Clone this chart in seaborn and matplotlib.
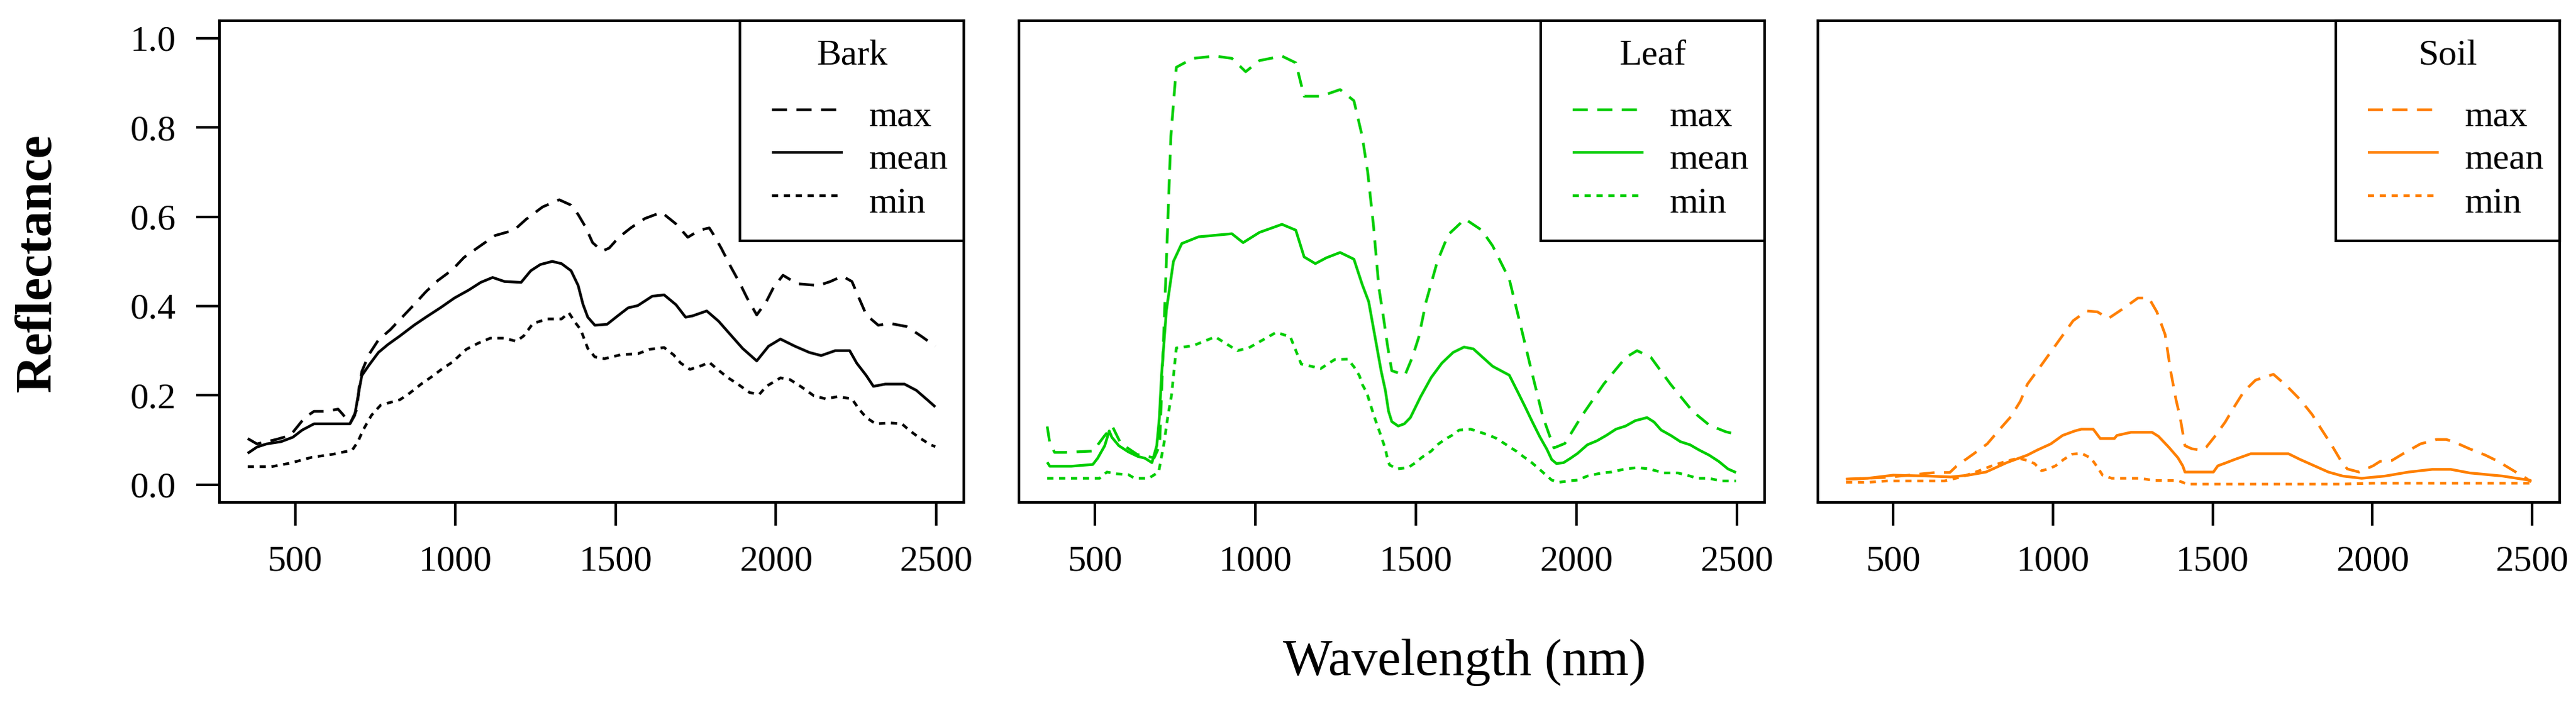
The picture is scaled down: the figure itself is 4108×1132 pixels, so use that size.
import matplotlib
matplotlib.use("Agg")
import matplotlib.pyplot as plt
from matplotlib.patches import Rectangle
from matplotlib.lines import Line2D
import pandas as pd
import seaborn as sns

# ---------------- data ----------------
bark_max_wl = [352, 381, 441, 485, 530, 559, 597, 634, 649, 671, 693, 700, 708, 730, 760, 797, 834, 871, 908, 945,
               990, 1027, 1072, 1124, 1183, 1220, 1272, 1324, 1361, 1383, 1406, 1428, 1458, 1480, 1510, 1547, 1591,
               1643, 1688, 1725, 1762, 1792, 1807, 1829, 1859, 1888, 1910, 1940, 1970, 1992, 2022, 2066, 2133, 2170,
               2207, 2237, 2259, 2282, 2319, 2356, 2408, 2452, 2497]
bark_max = [0.103, 0.091, 0.101, 0.110, 0.150, 0.164, 0.164, 0.169, 0.157, 0.136, 0.169, 0.220, 0.253, 0.291, 0.324,
            0.347, 0.375, 0.403, 0.432, 0.457, 0.481, 0.509, 0.532, 0.558, 0.570, 0.594, 0.622, 0.638, 0.626, 0.605,
            0.577, 0.542, 0.523, 0.530, 0.554, 0.575, 0.596, 0.610, 0.584, 0.554, 0.570, 0.575, 0.558, 0.530, 0.488,
            0.450, 0.418, 0.380, 0.410, 0.441, 0.469, 0.450, 0.446, 0.455, 0.467, 0.455, 0.418, 0.380, 0.357, 0.361,
            0.354, 0.333, 0.310]

bark_mean_wl = [352, 381, 411, 456, 493, 522, 559, 671, 686, 696, 708, 730, 760, 790, 827, 871, 908, 953, 997, 1042,
                1079, 1116, 1153, 1205, 1235, 1265, 1302, 1331, 1361, 1383, 1398, 1413, 1435, 1473, 1510, 1539, 1569,
                1614, 1651, 1688, 1718, 1740, 1784, 1821, 1859, 1896, 1940, 1977, 2014, 2059, 2104, 2141, 2185, 2230,
                2252, 2282, 2304, 2341, 2401, 2438, 2475, 2497]
bark_mean = [0.070, 0.084, 0.091, 0.096, 0.106, 0.122, 0.136, 0.136, 0.155, 0.197, 0.244, 0.267, 0.296, 0.314,
             0.333, 0.357, 0.375, 0.396, 0.418, 0.436, 0.453, 0.464, 0.455, 0.453, 0.479, 0.493, 0.500, 0.495, 0.479,
             0.446, 0.404, 0.375, 0.357, 0.359, 0.380, 0.396, 0.401, 0.422, 0.425, 0.403, 0.375, 0.378, 0.389, 0.366,
             0.335, 0.305, 0.277, 0.310, 0.326, 0.310, 0.296, 0.289, 0.300, 0.300, 0.272, 0.244, 0.220, 0.225, 0.225,
             0.211, 0.188, 0.174]

bark_min_wl = [352, 426, 485, 552, 619, 678, 696, 712, 738, 767, 827, 856, 893, 931, 960, 990, 1034, 1072, 1109,
               1153, 1190, 1213, 1242, 1287, 1331, 1354, 1373, 1391, 1413, 1435, 1465, 1517, 1569, 1606, 1651, 1680,
               1703, 1732, 1770, 1792, 1814, 1851, 1881, 1918, 1948, 1970, 2014, 2044, 2081, 2118, 2155, 2193, 2237,
               2259, 2282, 2311, 2356, 2393, 2415, 2445, 2482, 2497]
bark_min = [0.040, 0.040, 0.048, 0.061, 0.068, 0.077, 0.096, 0.122, 0.155, 0.178, 0.190, 0.204, 0.225, 0.244, 0.260,
            0.274, 0.303, 0.317, 0.328, 0.328, 0.321, 0.333, 0.361, 0.371, 0.371, 0.385, 0.364, 0.347, 0.305, 0.286,
            0.282, 0.291, 0.293, 0.303, 0.307, 0.291, 0.272, 0.258, 0.267, 0.274, 0.260, 0.239, 0.225, 0.206, 0.202,
            0.220, 0.239, 0.235, 0.218, 0.199, 0.192, 0.197, 0.192, 0.169, 0.150, 0.136, 0.138, 0.136, 0.122, 0.106,
            0.089, 0.085]

leaf_max_wl = [352, 360, 375, 408, 495, 529, 555, 581, 633, 685, 702, 720, 737, 754, 806, 875, 927, 970, 1013, 1083,
               1126, 1152, 1204, 1264, 1307, 1333, 1350, 1368, 1385, 1398, 1412, 1425, 1466, 1489, 1509, 1532, 1567,
               1601, 1653, 1705, 1739, 1791, 1826, 1860, 1895, 1930, 1964, 2016, 2085, 2154, 2189, 2232, 2293, 2362,
               2414, 2466, 2497]
leaf_max = [0.130, 0.093, 0.072, 0.072, 0.075, 0.108, 0.130, 0.092, 0.067, 0.060, 0.087, 0.440, 0.780, 0.935, 0.955,
            0.960, 0.955, 0.925, 0.950, 0.960, 0.945, 0.870, 0.870, 0.885, 0.860, 0.780, 0.700, 0.580, 0.440, 0.380,
            0.310, 0.255, 0.245, 0.285, 0.330, 0.410, 0.500, 0.560, 0.595, 0.570, 0.535, 0.460, 0.357, 0.255, 0.153,
            0.082, 0.092, 0.153, 0.225, 0.285, 0.300, 0.285, 0.225, 0.164, 0.133, 0.118, 0.113]

leaf_mean_wl = [352, 360, 427, 494, 509, 531, 545, 553, 575, 605, 634, 656, 678, 693, 701, 708, 723, 745, 771, 823,
                927, 962, 1013, 1083, 1126, 1152, 1187, 1221, 1264, 1307, 1333, 1353, 1373, 1392, 1405, 1415, 1425,
                1445, 1464, 1483, 1515, 1548, 1581, 1616, 1650, 1679, 1739, 1791, 1819, 1841, 1863, 1886, 1908, 1923,
                1938, 1960, 1982, 2004, 2034, 2064, 2093, 2123, 2153, 2183, 2220, 2242, 2264, 2294, 2324, 2354, 2383,
                2413, 2443, 2472, 2497]
leaf_mean = [0.050, 0.041, 0.041, 0.045, 0.059, 0.087, 0.120, 0.106, 0.087, 0.073, 0.063, 0.059, 0.049, 0.087,
             0.148, 0.246, 0.390, 0.500, 0.540, 0.555, 0.562, 0.542, 0.565, 0.583, 0.570, 0.510, 0.495, 0.508, 0.520,
             0.505, 0.448, 0.410, 0.330, 0.254, 0.211, 0.164, 0.141, 0.131, 0.136, 0.150, 0.197, 0.240, 0.272, 0.296,
             0.308, 0.304, 0.265, 0.245, 0.205, 0.173, 0.140, 0.107, 0.079, 0.056, 0.047, 0.049, 0.059, 0.070, 0.089,
             0.098, 0.110, 0.124, 0.131, 0.143, 0.150, 0.140, 0.122, 0.110, 0.096, 0.089, 0.077, 0.066, 0.052, 0.035,
             0.027]

leaf_min_wl = [352, 515, 538, 568, 605, 624, 668, 699, 716, 727, 739, 754, 806, 875, 944, 979, 1065, 1109, 1143, 1204,
               1247, 1288, 1308, 1324, 1334, 1347, 1356, 1366, 1379, 1390, 1405, 1412, 1418, 1441, 1476, 1499, 1519,
               1548, 1567, 1590, 1612, 1635, 1671, 1701, 1730, 1752, 1782, 1812, 1834, 1856, 1879, 1901, 1923, 1945,
               1975, 2004, 2034, 2079, 2108, 2153, 2190, 2227, 2272, 2316, 2354, 2376, 2413, 2450, 2497]
leaf_min = [0.014, 0.014, 0.028, 0.024, 0.022, 0.014, 0.014, 0.028, 0.094, 0.150, 0.200, 0.306, 0.311, 0.331, 0.300,
            0.306, 0.341, 0.331, 0.270, 0.260, 0.280, 0.281, 0.263, 0.244, 0.223, 0.206, 0.185, 0.162, 0.134, 0.112,
            0.080, 0.056, 0.044, 0.035, 0.038, 0.049, 0.061, 0.075, 0.089, 0.101, 0.110, 0.122, 0.124, 0.117, 0.110,
            0.103, 0.089, 0.075, 0.063, 0.052, 0.038, 0.024, 0.010, 0.005, 0.008, 0.010, 0.019, 0.026, 0.028, 0.035,
            0.038, 0.035, 0.026, 0.026, 0.019, 0.014, 0.014, 0.008, 0.008]

soil_max_wl = [352, 480, 632, 677, 699, 750, 794, 831, 868, 898, 920, 961, 1012, 1063, 1105, 1139, 1173, 1215, 1266,
               1300, 1325, 1351, 1368, 1385, 1398, 1413, 1435, 1465, 1480, 1509, 1539, 1568, 1597, 1634, 1690, 1730,
               1774, 1811, 1840, 1870, 1899, 1921, 1958, 2002, 2024, 2061, 2098, 2150, 2201, 2231, 2260, 2304, 2353,
               2393, 2437, 2481, 2497]
soil_max = [0.012, 0.016, 0.027, 0.027, 0.042, 0.068, 0.091, 0.122, 0.152, 0.187, 0.225, 0.265, 0.316, 0.367, 0.389,
            0.387, 0.372, 0.392, 0.418, 0.418, 0.387, 0.336, 0.255, 0.190, 0.150, 0.087, 0.080, 0.077, 0.084, 0.110,
            0.140, 0.175, 0.208, 0.234, 0.247, 0.222, 0.190, 0.157, 0.124, 0.091, 0.056, 0.035, 0.028, 0.042, 0.052,
            0.054, 0.070, 0.091, 0.101, 0.101, 0.094, 0.080, 0.066, 0.052, 0.033, 0.014, 0.006]

soil_mean_wl = [352, 420, 500, 610, 680, 735, 790, 818, 855, 920, 950, 993, 1030, 1068, 1089, 1126, 1148, 1192, 1200,
                1244, 1310, 1330, 1362, 1391, 1406, 1413, 1502, 1516, 1539, 1568, 1619, 1737, 1774, 1818, 1862, 1907,
                1966, 2039, 2113, 2187, 2245, 2304, 2407, 2497]
soil_mean = [0.012, 0.014, 0.021, 0.019, 0.017, 0.021, 0.028, 0.037, 0.049, 0.066, 0.077, 0.091, 0.110, 0.120, 0.124,
             0.124, 0.103, 0.103, 0.110, 0.117, 0.117, 0.108, 0.084, 0.060, 0.042, 0.028, 0.028, 0.042, 0.048, 0.056,
             0.069, 0.069, 0.056, 0.042, 0.028, 0.019, 0.014, 0.019, 0.028, 0.034, 0.034, 0.026, 0.019, 0.009]

soil_min_wl = [352, 420, 480, 660, 713, 758, 809, 853, 890, 920, 942, 964, 986, 1008, 1033, 1060, 1089, 1119, 1141,
               1155, 1184, 1273, 1317, 1391, 1420, 1900, 2000, 2497]
soil_min = [0.005, 0.005, 0.008, 0.008, 0.017, 0.028, 0.042, 0.052, 0.059, 0.054, 0.047, 0.031, 0.035, 0.042, 0.056,
            0.068, 0.070, 0.059, 0.037, 0.021, 0.014, 0.014, 0.009, 0.009, 0.001, 0.001, 0.003, 0.003]

panel_names = ["Bark", "Leaf", "Soil"]
panel_colors = ["#000000", "#00CD00", "#FF7F00"]
stat_names = ["max", "mean", "min"]
x_ticks = [500, 1000, 1500, 2000, 2500]
y_ticks = [0.0, 0.2, 0.4, 0.6, 0.8, 1.0]
y_tick_labels = ["0.0", "0.2", "0.4", "0.6", "0.8", "1.0"]

series = {
    "Bark": [(bark_max_wl, bark_max), (bark_mean_wl, bark_mean), (bark_min_wl, bark_min)],
    "Leaf": [(leaf_max_wl, leaf_max), (leaf_mean_wl, leaf_mean), (leaf_min_wl, leaf_min)],
    "Soil": [(soil_max_wl, soil_max), (soil_mean_wl, soil_mean), (soil_min_wl, soil_min)],
}

# ---------------- style ----------------
sns.set_style("ticks")
plt.rcParams["font.family"] = ["Liberation Serif", "DejaVu Serif"]
plt.rcParams["lines.dash_capstyle"] = "butt"
plt.rcParams["lines.solid_capstyle"] = "butt"

LW = 3.1
SPINE_LW = 3.0
FS = 42
dash_map = {"max": (5.6, 3.5), "mean": "", "min": (2.3, 2.1)}

W_PX, H_PX = 4108, 1132
fig = plt.figure(figsize=(W_PX / 100, H_PX / 100), dpi=100)

bottom = 1 - 801 / H_PX
height = (801 - 32.5) / H_PX
lefts_px = [350, 1625, 2899]
rights_px = [1537, 2814, 4082]

for i, name in enumerate(panel_names):
    lp, rp = lefts_px[i], rights_px[i]
    ax = fig.add_axes([lp / W_PX, bottom, (rp - lp) / W_PX, height])
    rows = []
    for stat, (wl, val) in zip(stat_names, series[name]):
        for w, v in zip(wl, val):
            rows.append({"wavelength": w, "reflectance": v, "stat": stat})
    df = pd.DataFrame(rows)
    sns.lineplot(data=df, x="wavelength", y="reflectance", style="stat",
                 style_order=stat_names, dashes=dash_map, color=panel_colors[i],
                 linewidth=LW, estimator=None, sort=False, legend=False, ax=ax)

    ax.set_xlim(264, 2586)
    ax.set_ylim(-0.04, 1.04)
    ax.set_xlabel("")
    ax.set_ylabel("")
    ax.set_xticks(x_ticks)
    ax.set_xticklabels([str(t) for t in x_ticks], fontsize=FS)
    if i == 0:
        ax.set_yticks(y_ticks)
        ax.set_yticklabels(y_tick_labels, fontsize=FS)
    else:
        ax.set_yticks([])
    ax.tick_params(axis="both", length=26.5, width=SPINE_LW, pad=23, color="black",
                   labelcolor="black", direction="out")
    for sp in ax.spines.values():
        sp.set_visible(True)
        sp.set_linewidth(SPINE_LW)
        sp.set_color("black")

    # legend box in the top-right corner (drawn in axes fractions)
    wpx = rp - lp
    hpx = 801 - 32.5
    bw, bh = 357, 351
    bx0 = 1 - bw / wpx
    by0 = 1 - bh / hpx
    ax.add_patch(Rectangle((bx0, by0), bw / wpx, bh / hpx, transform=ax.transAxes,
                           facecolor="white", edgecolor="black", linewidth=SPINE_LW,
                           clip_on=False, zorder=5))
    ax.text(bx0 + (bw / 2) / wpx, 1 - 70 / hpx, name, transform=ax.transAxes,
            ha="center", va="baseline", fontsize=FS, color="black", zorder=6)
    for k, stat in enumerate(stat_names):
        yh = 1 - (142 + 68.5 * k) / hpx
        dash = dash_map[stat]
        ln = Line2D([bx0 + 51 / wpx, bx0 + 164 / wpx], [yh, yh], transform=ax.transAxes,
                    color=panel_colors[i], linewidth=LW, zorder=6)
        if dash:
            ln.set_dashes(dash)
        ax.add_line(ln)
        ax.text(bx0 + 206 / wpx, yh - 27 / hpx, stat, transform=ax.transAxes,
                ha="left", va="baseline", fontsize=FS, color="black", zorder=6)

fig.text(2335 / W_PX, 56 / H_PX, "Wavelength (nm)", ha="center", va="baseline",
         fontsize=60, color="black")
fig.text(61 / W_PX, 1 - 419 / H_PX, "Reflectance", ha="center", va="center",
         rotation=90, fontsize=60, fontweight="bold", color="black")

fig.savefig("out.png", dpi=100, facecolor="white")
